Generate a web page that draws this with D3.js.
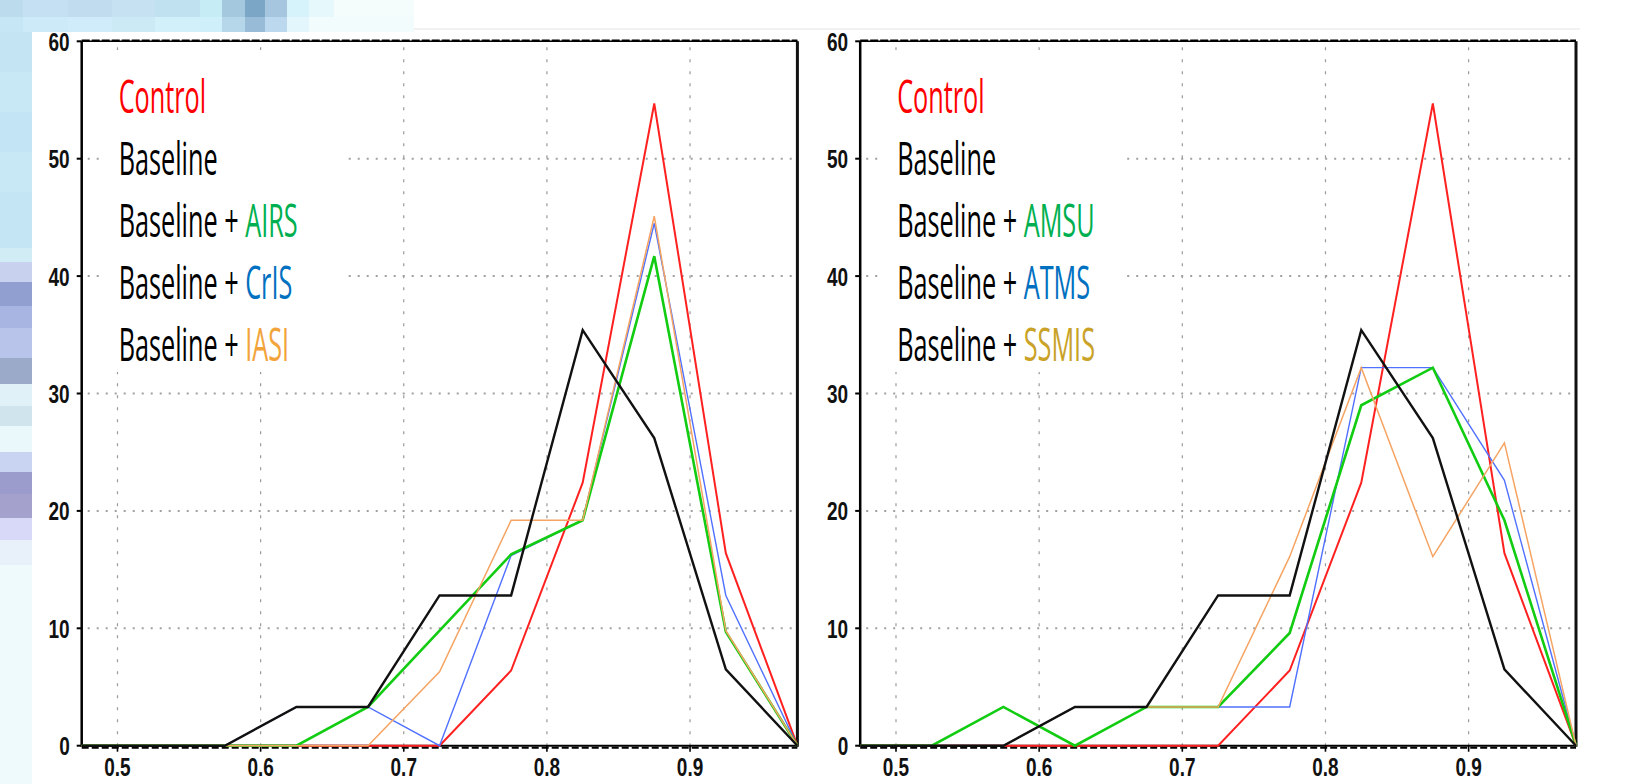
<!DOCTYPE html>
<meta charset="utf-8">
<body style="margin: 0; overflow: hidden; background: #fff">
<script src="https://cdn.jsdelivr.net/npm/d3@7"></script>
<script>
// bin centres on the x axis and the tick values
var xBins = [0.475, 0.525, 0.575, 0.625, 0.675, 0.725, 0.775, 0.825, 0.875, 0.925, 0.975];
var xTicks = [0.5, 0.6, 0.7, 0.8, 0.9];
var yTicks = [0, 10, 20, 30, 40, 50, 60];
var xTickLabels = ["0.5", "0.6", "0.7", "0.8", "0.9"];

// counts per bin
var control  = [0, 0, 0, 0, 0, 0, 6.4, 22.4, 54.7, 16.4, 0];
var baseline = [0, 0, 0, 3.3, 3.3, 12.8, 12.8, 35.4, 26.2, 6.5, 0];
// left panel: IR sounders
var airs = [0, 0, 0, 0, 3.3, 9.8, 16.3, 19.2, 41.7, 9.7, 0];
var cris = [0, 0, 0, 3.3, 3.3, 0, 16.2, 19.2, 44.5, 12.8, 0];
var iasi = [0, 0, 0, 0, 0, 6.3, 19.2, 19.2, 45.1, 9.8, 0];
// right panel: microwave
var amsu  = [0, 0, 3.3, 0, 3.3, 3.3, 9.6, 29.0, 32.2, 19.2, 0];
var atms  = [0, 0, 0, 3.3, 3.3, 3.3, 3.3, 32.2, 32.2, 22.6, 0];
var ssmis = [0, 0, 0, 3.3, 3.3, 3.3, 16.1, 32.2, 16.1, 25.8, 0];

var leftNames = ["AIRS", "CrIS", "IASI"];
var rightNames = ["AMSU", "ATMS", "SSMIS"];

var W = 1646, H = 784;
var svg = d3.select("body").append("svg").attr("width", W).attr("height", H);

// ---- slide background scraps (pixelated strip on the left, band on top)
var bg = svg.append("g");
var topBand = [
    [0, 0, 23, 17, "#bcdcee"], [23, 0, 45, 17, "#c4e0f2"], [68, 0, 44, 17, "#c0dcee"], [112, 0, 43, 17, "#c6e2f2"],
    [155, 0, 45, 17, "#c0e2f0"], [200, 0, 22, 17, "#c6ecf6"], [222, 0, 23, 17, "#a4c8de"], [245, 0, 20, 17, "#7ca6c6"],
    [265, 0, 22, 17, "#a6c6e0"], [287, 0, 22, 17, "#d6f2fb"], [309, 0, 25, 17, "#e6f8fc"], [334, 0, 80, 17, "#f4fcfc"],
    [0, 17, 23, 15, "#c6e6f6"], [23, 17, 45, 15, "#cceaf8"], [68, 17, 44, 15, "#d0ecfa"], [112, 17, 43, 15, "#cceaf6"],
    [155, 17, 45, 15, "#d2f0fa"], [200, 17, 22, 15, "#cff0fa"], [222, 17, 23, 15, "#b6d6ea"], [245, 17, 20, 15, "#98bcd8"],
    [265, 17, 22, 15, "#bcd8ee"], [287, 17, 22, 15, "#e2f6fc"], [309, 17, 105, 15, "#f2fcfd"]
];
var leftStrip = [
    [32, 40, "#c4e4f4"], [72, 40, "#c8e8f6"], [112, 40, "#c2e4f4"], [152, 40, "#c8e8f6"], [192, 56, "#c4e6f4"],
    [248, 14, "#d2ecf6"], [262, 20, "#c8d2ee"], [282, 24, "#909fd0"], [306, 22, "#a8b4e2"], [328, 30, "#b8c4ea"],
    [358, 26, "#9aaac8"], [384, 22, "#e0f2f8"], [406, 20, "#d0e4ee"], [426, 26, "#eaf8fc"], [452, 20, "#c8d4f2"],
    [472, 22, "#9c9ccc"], [494, 24, "#a4a2cc"], [518, 22, "#d8d8f8"], [540, 25, "#e8f0fa"], [565, 219, "#eefafc"]
];
bg.selectAll("rect.top").data(topBand).enter().append("rect")
    .attr("x", d => d[0]).attr("y", d => d[1]).attr("width", d => d[2]).attr("height", d => d[3])
    .attr("fill", d => d[4]);
bg.selectAll("rect.left").data(leftStrip).enter().append("rect")
    .attr("x", 0).attr("y", d => d[0]).attr("width", 32).attr("height", d => d[1])
    .attr("fill", d => d[2]);
bg.append("line").attr("x1", 414).attr("x2", 1580).attr("y1", 29).attr("y2", 29)
    .attr("stroke", "#ececec").attr("stroke-width", 1.5);

// ---- panels
var seriesStyle = [
    {color: "#ff2020", width: 2},
    {color: "#5070ff", width: 1.4},
    {color: "#12cc12", width: 2.6},
    {color: "#f5a463", width: 1.5},
    {color: "#111111", width: 2.4}
];

var panels = [
    {x0: 81.7, x1: 797.4, series: [control, cris, airs, iasi, baseline], names: leftNames,
     nameColors: ["#00b050", "#0070c0", "#f2a43a"]},
    {x0: 860.2, x1: 1576, series: [control, atms, amsu, ssmis, baseline], names: rightNames,
     nameColors: ["#00b050", "#0070c0", "#c9a227"]}
];

var yTop = 41.3, yBot = 745.7;

panels.forEach(function (p) {
    var x = d3.scaleLinear().domain([0.475, 0.975]).range([p.x0, p.x1]);
    var y = d3.scaleLinear().domain([0, 60]).range([yBot, yTop]);
    var g = svg.append("g");

    // grid
    g.selectAll("line.vg").data(xTicks).enter().append("line")
        .attr("x1", d => x(d)).attr("x2", d => x(d)).attr("y1", yTop + 6).attr("y2", yBot)
        .attr("stroke", "#9a9a9a").attr("stroke-width", 1.2).attr("stroke-dasharray", "3,9");
    g.selectAll("line.hg").data(yTicks.slice(1, 6)).enter().append("line")
        .attr("x1", p.x0 + 6).attr("x2", p.x1).attr("y1", d => y(d)).attr("y2", d => y(d))
        .attr("stroke", "#a0a0a0").attr("stroke-width", 2).attr("stroke-dasharray", "2,7");

    // legend sits on a white box that hides the grid
    var lx = x(0.475) + 37;
    g.append("rect").attr("x", p.x0 + 22).attr("y", 50).attr("width", 244).attr("height", 322).attr("fill", "#fff");

    // frame
    g.append("line").attr("x1", p.x0).attr("x2", p.x0).attr("y1", yTop).attr("y2", yBot + 1)
        .attr("stroke", "#000").attr("stroke-width", 2.5);
    g.append("line").attr("x1", p.x1).attr("x2", p.x1).attr("y1", yTop).attr("y2", yBot + 1)
        .attr("stroke", "#111").attr("stroke-width", 3);
    g.append("line").attr("x1", p.x0).attr("x2", p.x1).attr("y1", yTop).attr("y2", yTop)
        .attr("stroke", "#000").attr("stroke-width", 1.4);
    g.append("line").attr("x1", p.x0).attr("x2", p.x1).attr("y1", yTop - 0.5).attr("y2", yTop - 0.5)
        .attr("stroke", "#000").attr("stroke-width", 2.6).attr("stroke-dasharray", "8,2");
    g.append("line").attr("x1", p.x0).attr("x2", p.x1).attr("y1", yBot).attr("y2", yBot)
        .attr("stroke", "#000").attr("stroke-width", 2);
    g.append("line").attr("x1", p.x0).attr("x2", p.x1).attr("y1", yBot + 2).attr("y2", yBot + 2)
        .attr("stroke", "#000").attr("stroke-width", 2).attr("stroke-dasharray", "7,3");

    // ticks
    g.selectAll("line.yt").data(yTicks).enter().append("line")
        .attr("x1", p.x0 - 5).attr("x2", p.x0).attr("y1", d => y(d)).attr("y2", d => y(d))
        .attr("stroke", "#000").attr("stroke-width", 2);
    g.selectAll("line.xt").data(xTicks).enter().append("line")
        .attr("x1", d => x(d)).attr("x2", d => x(d)).attr("y1", yBot).attr("y2", yBot + 6)
        .attr("stroke", "#000").attr("stroke-width", 1.6);

    // series
    var line = d3.line().x((d, i) => x(xBins[i])).y(d => y(d));
    p.series.forEach(function (s, k) {
        g.append("path").datum(s).attr("d", line).attr("fill", "none")
            .attr("stroke", seriesStyle[k].color).attr("stroke-width", seriesStyle[k].width)
            .attr("stroke-linejoin", "miter");
    });

    // tick labels
    g.selectAll("text.yl").data(yTicks).enter().append("text")
        .attr("transform", d => "translate(" + (p.x0 - 12) + "," + (y(d) + 9.5) + ") scale(1,1.4)")
        .attr("text-anchor", "end")
        .style("font", "bold 19px 'Liberation Sans', Arial, sans-serif").attr("fill", "#111")
        .text(d => d);
    g.selectAll("text.xl").data(xTicks).enter().append("text")
        .attr("transform", d => "translate(" + x(d) + ",776) scale(1,1.35)")
        .attr("text-anchor", "middle")
        .style("font", "bold 19px 'Liberation Sans', Arial, sans-serif").attr("fill", "#111")
        .text((d, i) => xTickLabels[i]);

    // legend
    var rows = [[["Control", "#ff0000"]], [["Baseline", "#000"]]];
    p.names.forEach(function (n, i) { rows.push([["Baseline + ", "#000"], [n, p.nameColors[i]]]); });

    var probe = svg.append("text").style("font", "30px 'Open Sans', sans-serif").text("Baseline");
    var sx = 99 / probe.node().getComputedTextLength();
    probe.remove();

    rows.forEach(function (r, i) {
        var t = g.append("text")
            .attr("transform", "translate(" + lx + "," + (113 + i * 62) + ") scale(" + sx + ",1.5)")
            .style("font", "30px 'Open Sans', sans-serif");
        r.forEach(function (part) {
            t.append("tspan").attr("fill", part[1]).text(part[0]);
        });
    });
});
</script>
